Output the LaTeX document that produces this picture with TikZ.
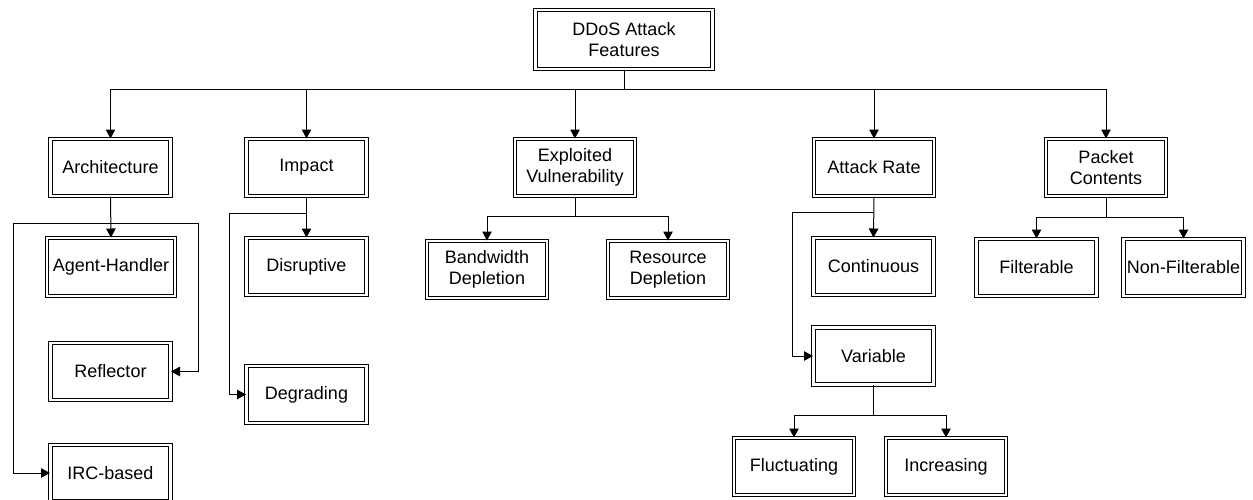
\documentclass[tikz,border=0pt]{standalone}
\usepackage{fontspec}
\setmainfont{Liberation Sans}
\usetikzlibrary{arrows.meta}
\begin{document}
\begin{tikzpicture}[x=1pt,y=-1pt,
  box/.style={draw, double, line width=1pt, double distance=2.4pt,
    inner sep=0pt, minimum width=120pt, minimum height=57pt, align=center,
    font=\fontsize{18}{21.5}\selectfont},
  link/.style={line width=1pt},
  arr/.style={link, -{Triangle[length=9pt,width=9.5pt]}}]
\useasboundingbox (0,0) rectangle (1253,499);

% root and first level
\node[box, minimum width=177pt, minimum height=59pt] (root) at (624,39.5) {DDoS Attack\\Features};
\node[box] (arch)    at (110.5,167.5) {Architecture};
\node[box] (impact)  at (306.5,167.5) {Impact};
\node[box] (exploit) at (575,167.5)   {Exploited\\Vulnerability};
\node[box] (rate)    at (874,167.5)   {Attack Rate};
\node[box] (packet)  at (1106,167.5)  {Packet\\Contents};

% architecture branch
\node[box, minimum width=128pt, minimum height=58pt] (agent) at (111,267) {Agent-Handler};
\node[box] (reflector) at (110.5,371.5) {Reflector};
\node[box, minimum height=56pt] (irc) at (110.5,473) {IRC-based};

% impact branch
\node[box] (disruptive) at (306.5,266.5) {Disruptive};
\node[box] (degrading)  at (306.5,394.5) {Degrading};

% exploited vulnerability branch
\node[box] (bandwidth) at (487,269.5) {Bandwidth\\Depletion};
\node[box] (resource)  at (668,269.5) {Resource\\Depletion};

% attack rate branch
\node[box] (continuous) at (873.5,266.5) {Continuous};
\node[box] (variable)   at (873.5,356)   {Variable};
\node[box] (fluct)      at (794,466.5)   {Fluctuating};
\node[box] (incr)       at (946,466.5)   {Increasing};

% packet contents branch
\node[box] (filt)    at (1036.5,267.5) {Filterable};
\node[box] (nonfilt) at (1183.5,267.5) {Non-Filterable};

% bus levels
\coordinate (bus) at (0,89);
\coordinate (aL) at (13,223);
\coordinate (aR) at (198,223);
\coordinate (iL) at (229,213);
\coordinate (eb) at (0,216);
\coordinate (rL) at (792,212);
\coordinate (vb) at (0,415);
\coordinate (pb) at (0,217);

% root to first level
\foreach \c in {arch,impact,exploit,rate,packet}
  \draw[arr] (root.south) |- (bus -| \c.north) -- (\c.north);

% architecture
\draw[arr] (arch.south) -- (agent.north);
\draw[arr] (arch.south |- aR) -- (aR) |- (reflector.east);
\draw[arr] (arch.south |- aL) -- (aL) |- (irc.west);

% impact
\draw[arr] (impact.south) -- (disruptive.north);
\draw[arr] (impact.south |- iL) -- (iL) |- (degrading.west);

% exploited vulnerability
\foreach \c in {bandwidth,resource}
  \draw[arr] (exploit.south) |- (eb -| \c.north) -- (\c.north);

% attack rate
\draw[arr] (rate.south) -- (continuous.north);
\draw[arr] (rate.south |- rL) -- (rL) |- (variable.west);
\foreach \c in {fluct,incr}
  \draw[arr] (variable.south) |- (vb -| \c.north) -- (\c.north);

% packet contents
\foreach \c in {filt,nonfilt}
  \draw[arr] (packet.south) |- (pb -| \c.north) -- (\c.north);
\end{tikzpicture}
\end{document}
